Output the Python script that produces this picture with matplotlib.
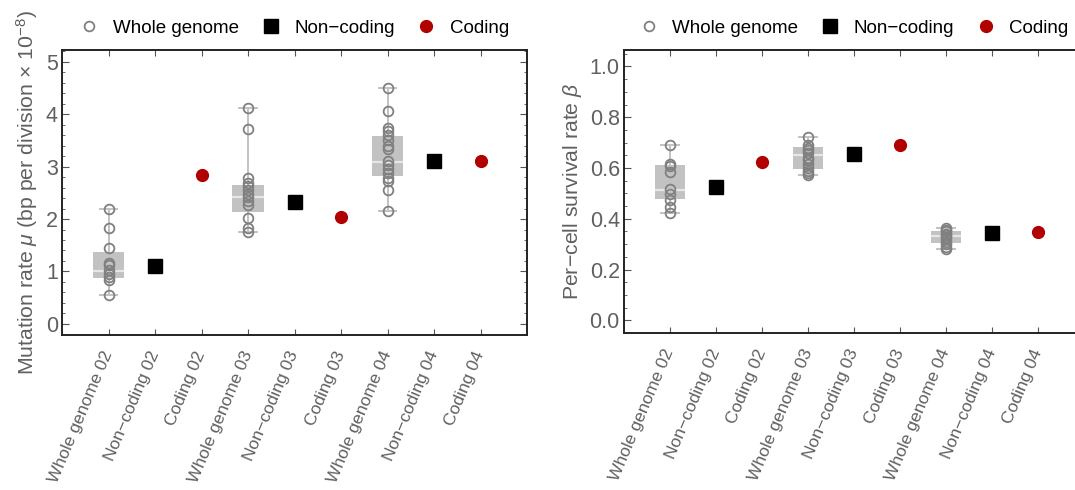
import matplotlib
matplotlib.use("Agg")
import matplotlib.pyplot as plt
from matplotlib.lines import Line2D
from matplotlib.ticker import MultipleLocator

plt.rcParams['font.family'] = ['Liberation Sans', 'DejaVu Sans']
plt.rcParams['mathtext.fontset'] = 'custom'
plt.rcParams['mathtext.rm'] = 'Liberation Sans'
plt.rcParams['mathtext.it'] = 'Liberation Sans:italic'

categories = ['Whole genome 02', 'Non\u2212coding 02', 'Coding 02',
              'Whole genome 03', 'Non\u2212coding 03', 'Coding 03',
              'Whole genome 04', 'Non\u2212coding 04', 'Coding 04']

# mutation rate (x 1e-8)
mu_wg02 = [2.20, 1.82, 1.45, 1.17, 1.13, 1.03, 0.96, 0.90, 0.83, 0.55]
mu_wg03 = [4.11, 3.72, 2.79, 2.69, 2.62, 2.55, 2.48, 2.42, 2.35, 2.27, 2.02, 1.82, 1.76]
mu_wg04 = [4.50, 4.06, 3.73, 3.68, 3.60, 3.50, 3.40, 3.33, 3.11, 3.03, 2.95, 2.87,
           2.79, 2.72, 2.55, 2.15]
mu_q1 = [0.87, 2.14, 2.82]
mu_med = [1.01, 2.41, 3.09]
mu_q3 = [1.37, 2.64, 3.59]
mu_noncoding = [1.11, 2.32, 3.11]
mu_coding = [2.83, 2.04, 3.10]

# per-cell survival rate
beta_wg02 = [0.692, 0.615, 0.606, 0.584, 0.517, 0.497, 0.475, 0.446, 0.423]
beta_wg03 = [0.724, 0.69, 0.68, 0.67, 0.66, 0.64, 0.63, 0.615, 0.60, 0.59, 0.58, 0.571]
beta_wg04 = [0.365, 0.357, 0.35, 0.342, 0.335, 0.328, 0.32, 0.31, 0.30, 0.29, 0.28]
beta_q1 = [0.478, 0.596, 0.304]
beta_med = [0.512, 0.651, 0.331]
beta_q3 = [0.610, 0.681, 0.350]
beta_noncoding = [0.524, 0.655, 0.345]
beta_coding = [0.623, 0.692, 0.348]

GRAY_TXT = '#606060'
BOX = '#c2c2c2'
PT = '#808080'
RED = '#b00000'


def panel(ax, wg, q1, med, q3, noncoding, coding, ylim, major, minor, fmt, ylabel):
    wg_pos = [1, 4, 7]
    nc_pos = [2, 5, 8]
    c_pos = [3, 6, 9]
    stats = []
    for pts, a, m, b in zip(wg, q1, med, q3):
        stats.append(dict(whislo=min(pts), q1=a, med=m, q3=b, whishi=max(pts), fliers=[]))
    ax.bxp(stats, positions=wg_pos, widths=0.67, patch_artist=True, showfliers=False,
           boxprops=dict(facecolor=BOX, edgecolor='none'),
           medianprops=dict(color='#e6e6e6', linewidth=1.6),
           whiskerprops=dict(color=BOX, linewidth=1.4),
           capprops=dict(color=BOX, linewidth=1.4), capwidths=0.38, zorder=1)
    for p, pts in zip(wg_pos, wg):
        ax.plot([p] * len(pts), pts, 'o', ms=7, mfc='none', mec=PT, mew=1.3, zorder=3)
    ax.plot(nc_pos, noncoding, 's', ms=9.5, color='black', zorder=3)
    ax.plot(c_pos, coding, 'o', ms=8.5, color=RED, zorder=3)

    ax.set_xlim(0, 10)
    ax.set_ylim(*ylim)
    ax.set_xticks(range(1, 10))
    ax.set_xticklabels(categories, rotation=67, ha='right', va='center',
                       rotation_mode='anchor', fontsize=12.6, color=GRAY_TXT)
    ax.yaxis.set_major_locator(MultipleLocator(major))
    ax.yaxis.set_minor_locator(MultipleLocator(minor))
    ax.yaxis.set_major_formatter(fmt)
    ax.tick_params(axis='both', which='both', direction='in', top=True, right=True,
                   color='#555555')
    ax.tick_params(axis='y', which='major', length=5, labelsize=15.5, labelcolor=GRAY_TXT, pad=3)
    ax.tick_params(axis='y', which='minor', length=2.5)
    ax.tick_params(axis='x', which='major', length=4, pad=12)
    for s in ax.spines.values():
        s.set_color('#222222')
        s.set_linewidth(1.4)
    ax.set_ylabel(ylabel, fontsize=15.3, color=GRAY_TXT, labelpad=4)

    handles = [
        Line2D([], [], marker='o', ls='none', ms=7, mfc='none', mec=PT, mew=1.3),
        Line2D([], [], marker='s', ls='none', ms=9.5, color='black'),
        Line2D([], [], marker='o', ls='none', ms=8.5, color=RED),
    ]
    ax.legend(handles, ['Whole genome', 'Non\u2212coding', 'Coding'], ncol=3,
              loc='lower center', bbox_to_anchor=(0.5, 1.0), frameon=False,
              fontsize=13.5, handlelength=1.0, handletextpad=0.75, columnspacing=1.2,
              borderaxespad=0.3)


fig = plt.figure(figsize=(10.75, 4.9), dpi=100)
ax1 = fig.add_axes([62 / 1075, 1 - 335 / 490, (527 - 62) / 1075, 285 / 490])
ax2 = fig.add_axes([624 / 1075, 1 - 333 / 490, (1084 - 624) / 1075, 283 / 490])

panel(ax1, [mu_wg02, mu_wg03, mu_wg04], mu_q1, mu_med, mu_q3, mu_noncoding, mu_coding,
      (-0.21, 5.22), 1, 0.2, '{x:.0f}',
      r'Mutation rate $\mu$ (bp per division $\times$ 10$^{-8}$)')
panel(ax2, [beta_wg02, beta_wg03, beta_wg04], beta_q1, beta_med, beta_q3,
      beta_noncoding, beta_coding, (-0.05, 1.065), 0.2, 0.05, '{x:.1f}',
      'Per\u2212cell survival rate $\\beta$')

fig.savefig('out.png', dpi=100)
